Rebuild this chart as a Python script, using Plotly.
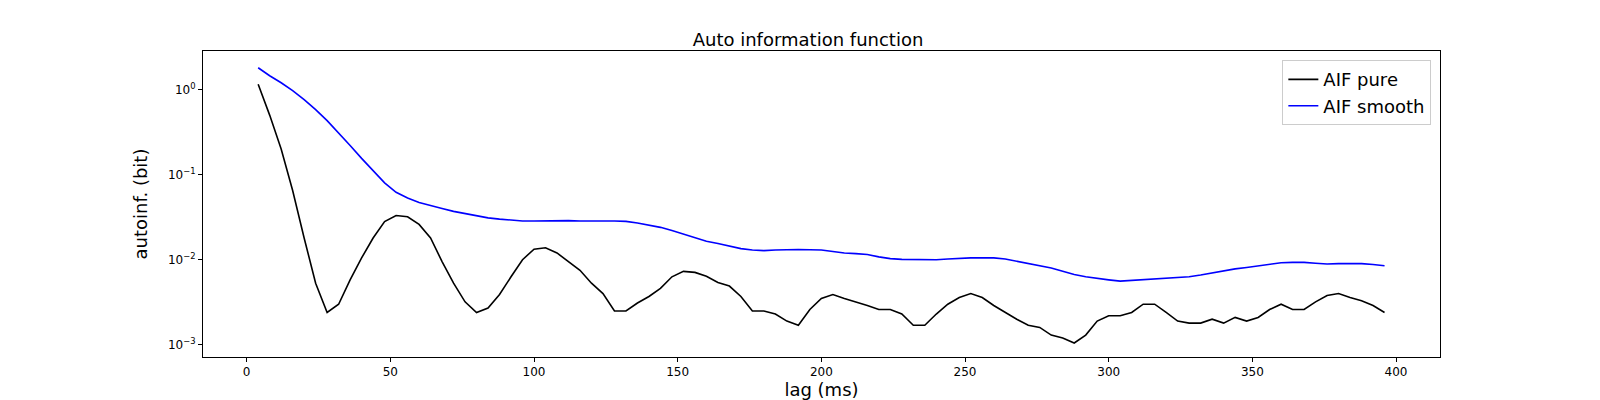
import plotly.graph_objects as go

lag = list(range(4, 400, 4))

aif_pure = [1.15, 0.5, 0.2, 0.065, 0.018, 0.0053, 0.0024, 0.003, 0.0058, 0.0105,
            0.018, 0.028, 0.033, 0.032, 0.026, 0.018, 0.0095, 0.0053, 0.0032, 0.0024,
            0.0027, 0.0039, 0.0063, 0.0100, 0.0133, 0.0138, 0.0120, 0.0095, 0.0075, 0.0053,
            0.0040, 0.0025, 0.0025, 0.0031, 0.0037, 0.0046, 0.0063, 0.0073, 0.0071, 0.0064,
            0.0054, 0.0049, 0.0037, 0.0025, 0.0025, 0.0023, 0.0019, 0.0017, 0.0026, 0.0035,
            0.0039, 0.0035, 0.0032, 0.0029, 0.0026, 0.0026, 0.0023, 0.0017, 0.0017, 0.0023,
            0.0030, 0.0036, 0.0040, 0.0036, 0.0029, 0.0024, 0.0020, 0.0017, 0.0016, 0.0013,
            0.0012, 0.00105, 0.0013, 0.0019, 0.0022, 0.0022, 0.0024, 0.0030, 0.0030, 0.0024,
            0.0019, 0.0018, 0.0018, 0.0020, 0.0018, 0.0021, 0.0019, 0.0021, 0.0026, 0.0030,
            0.0026, 0.0026, 0.0032, 0.0038, 0.0040, 0.0036, 0.0033, 0.0029, 0.0024]

aif_smooth = [1.8, 1.45, 1.2, 0.97, 0.76, 0.58, 0.43, 0.31, 0.22, 0.155,
              0.11, 0.08, 0.062, 0.053, 0.047, 0.043, 0.040, 0.037, 0.035, 0.033,
              0.031, 0.030, 0.029, 0.0285, 0.0285, 0.0287, 0.029, 0.0288, 0.0285, 0.0283,
              0.0285, 0.0285, 0.0282, 0.027, 0.0255, 0.024, 0.022, 0.020, 0.018, 0.0165,
              0.0155, 0.0145, 0.0135, 0.0130, 0.0128, 0.0130, 0.0132, 0.0132, 0.0131, 0.0130,
              0.0125, 0.0120, 0.0118, 0.0115, 0.0108, 0.0103, 0.0101, 0.0100, 0.0100, 0.0100,
              0.0102, 0.0104, 0.0105, 0.0105, 0.0105, 0.0102, 0.0096, 0.0091, 0.0086, 0.0080,
              0.0073, 0.0067, 0.0063, 0.0060, 0.0058, 0.0056, 0.0057, 0.0058, 0.0059, 0.0060,
              0.0061, 0.0063, 0.0066, 0.0070, 0.0074, 0.0078, 0.0081, 0.0084, 0.0088, 0.0092,
              0.0093, 0.0093, 0.0091, 0.0089, 0.0090, 0.0090, 0.0090, 0.0088, 0.0085]

fig = go.Figure()
fig.add_trace(go.Scatter(x=lag, y=aif_pure, mode='lines', name='AIF pure',
                         line=dict(color='black', width=1.6)))
fig.add_trace(go.Scatter(x=lag, y=aif_smooth, mode='lines', name='AIF smooth',
                         line=dict(color='blue', width=1.6)))

axis_common = dict(showline=True, linecolor='black', linewidth=1, mirror=True,
                   ticks='outside', ticklen=4, tickcolor='black', showgrid=False,
                   zeroline=False, tickfont=dict(size=12, color='black'))
fig.update_layout(
    width=1600, height=400,
    margin=dict(l=195, r=168, t=43, b=51),
    plot_bgcolor='white', paper_bgcolor='white',
    font=dict(family='DejaVu Sans', color='black'),
    title=dict(text='Auto information function', x=0.5, xanchor='center',
               y=0.92, yanchor='middle', font=dict(size=18)),
    xaxis=dict(range=[-15.2, 415.3], tickvals=[0, 50, 100, 150, 200, 250, 300, 350, 400],
               title=dict(text='lag (ms)', font=dict(size=18), standoff=4), **axis_common),
    yaxis=dict(type='log', range=[-3.143, 0.452],
               tickvals=[0.001, 0.01, 0.1, 1],
               ticktext=['10<sup>−3</sup>', '10<sup>−2</sup>', '10<sup>−1</sup>', '10<sup>0</sup>'],
               title=dict(text='autoinf. (bit)', font=dict(size=18)), **axis_common),
    legend=dict(x=0.993, y=0.97, xanchor='right', yanchor='top', bgcolor='white',
                bordercolor='#cccccc', borderwidth=1, font=dict(size=18)),
    showlegend=True,
)
fig.write_html("out.html")
